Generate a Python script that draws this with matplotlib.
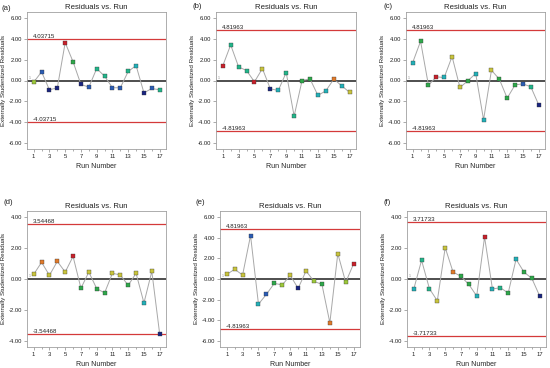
import matplotlib
matplotlib.use("Agg")
import matplotlib.pyplot as plt
import numpy as np

plt.rcParams['font.family'] = ['Liberation Sans', 'DejaVu Sans']

runs = list(range(1, 18))

# residual values per panel
res_a = [-0.16, 0.83, -0.90, -0.70, 3.65, 1.80, -0.38, -0.64, 1.15, 0.42, -0.70, -0.70, 0.87, 1.44, -1.19, -0.77, -0.90]
res_b = [1.41, 3.43, 1.31, 0.96, -0.13, 1.15, -0.80, -0.96, 0.77, -3.43, 0.00, 0.16, -1.44, -0.99, 0.13, -0.51, -1.15]
res_c = [1.73, 3.78, -0.45, 0.35, 0.29, 2.31, -0.67, -0.03, 0.67, -3.78, 0.99, 0.13, -1.70, -0.42, -0.32, -0.61, -2.34]
res_d = [0.30, 1.08, 0.24, 1.14, 0.45, 1.46, -0.60, 0.45, -0.62, -0.90, 0.37, 0.26, -0.41, 0.37, -1.55, 0.49, -3.57]
res_e = [0.45, 0.94, 0.39, 4.22, -2.44, -1.49, -0.42, -0.58, 0.36, -0.91, 0.78, -0.23, -0.52, -4.25, 2.47, -0.32, 1.49]
res_f = [-0.67, 1.21, -0.63, -1.41, 2.03, 0.45, 0.17, -0.35, -1.10, 2.72, -0.65, -0.56, -0.91, 1.28, 0.45, 0.04, -1.10]

limits = [4.03715, 4.81963, 4.81963, 3.54468, 4.81963, 3.71733]
limit_labels = ["4.03715", "4.81963", "4.81963", "3.54468", "4.81963", "3.71733"]
panel_labels = ["(a)", "(b)", "(c)", "(d)", "(e)", "(f)"]
yticks_big = [6, 4, 2, 0, -2, -4, -6]
yticks_small = [4, 2, 0, -2, -4]

# colour codes
R = '#c8202a'; O = '#e07a2a'; Y = '#c8c43c'; YG = '#9cc83a'; G = '#2ea84a'
TG = '#22b58a'; T = '#22b0b8'; B = '#2a5cb4'; N = '#1a2580'

col_a = [YG, B, N, N, R, G, N, B, TG, TG, B, B, TG, T, N, B, TG]
col_b = [R, TG, TG, TG, R, Y, N, T, TG, TG, G, G, T, T, O, T, Y]
col_c = [T, G, G, R, T, Y, Y, G, T, T, Y, G, G, G, B, TG, N]
col_d = [Y, O, Y, O, Y, R, G, Y, G, G, Y, Y, G, Y, T, Y, N]
col_e = [Y, Y, Y, B, T, B, G, YG, Y, N, Y, YG, G, O, Y, YG, R]
col_f = [T, TG, TG, Y, Y, O, G, G, T, R, T, TG, G, T, G, G, N]

data = [res_a, res_b, res_c, res_d, res_e, res_f]
cols = [col_a, col_b, col_c, col_d, col_e, col_f]

W, H = 550, 368
fig = plt.figure(figsize=(W/100, H/100), dpi=100)

boxes = [(27, 166, 12, 149), (216, 356, 12, 149), (406, 545, 12, 149),
         (27, 166, 211, 347), (220, 360, 211, 347), (407, 546, 211, 347)]
ylims = [6.6, 6.6, 6.6, 4.4, 6.6, 4.4]
label_pos = [(2, 8), (192, 6), (383, 6), (3, 202), (195, 203), (383, 203)]

for i in range(6):
    l, r, t, b = boxes[i]
    ax = fig.add_axes([l/W, (H-b)/H, (r-l)/W, (b-t)/H])
    lim = limits[i]
    yl = ylims[i]
    ax.set_xlim(0.15, 17.8)
    ax.set_ylim(-yl, yl)
    ax.axhline(0, color='#404040', lw=1.3, zorder=1)
    ax.axhline(lim, color='#d43a3a', lw=0.9, zorder=1)
    ax.axhline(-lim, color='#d43a3a', lw=0.9, zorder=1)
    ax.text(0.85, lim, limit_labels[i], fontsize=4.4, va='bottom', ha='left', color='#222222')
    ax.text(0.85, -lim, "-" + limit_labels[i], fontsize=4.4, va='bottom', ha='left', color='#222222')
    ax.text(0.55, 0.05, "1", fontsize=2.5, color='#888888', va='bottom', ha='center')
    ax.plot(runs, data[i], color='#a8a8a8', lw=0.7, zorder=2)
    for x, y, c in zip(runs, data[i], cols[i]):
        ax.plot([x], [y], marker='s', ms=3.3, color=c, mec='#333333', mew=0.25, zorder=3)
    ax.set_xticks(list(range(1, 18, 2)))
    ax.set_xticks(list(range(2, 17, 2)), minor=True)
    yt = yticks_big if yl > 5 else yticks_small
    ax.set_yticks(yt)
    ax.set_yticklabels([f"{v:.2f}" for v in yt])
    ax.tick_params(axis='both', which='major', labelsize=4.2, length=2, width=0.5,
                   color='#888888', pad=1.5, labelcolor='#222222')
    ax.tick_params(axis='x', which='minor', length=1.2, width=0.5, color='#888888')
    for s in ax.spines.values():
        s.set_color('#a0a0a0')
        s.set_linewidth(0.6)
    ax.set_title("Residuals vs. Run", fontsize=5.6, pad=2, color='#222222')
    ax.set_xlabel("Run Number", fontsize=5.0, labelpad=3, color='#222222')
    ax.set_ylabel("Externally Studentized Residuals", fontsize=4.5, labelpad=2, color='#222222')
    px, py = label_pos[i]
    fig.text(px/W, 1 - py/H, panel_labels[i], fontsize=5.6, va='center', ha='left', color='#222222')

fig.savefig("out.png", dpi=100)
